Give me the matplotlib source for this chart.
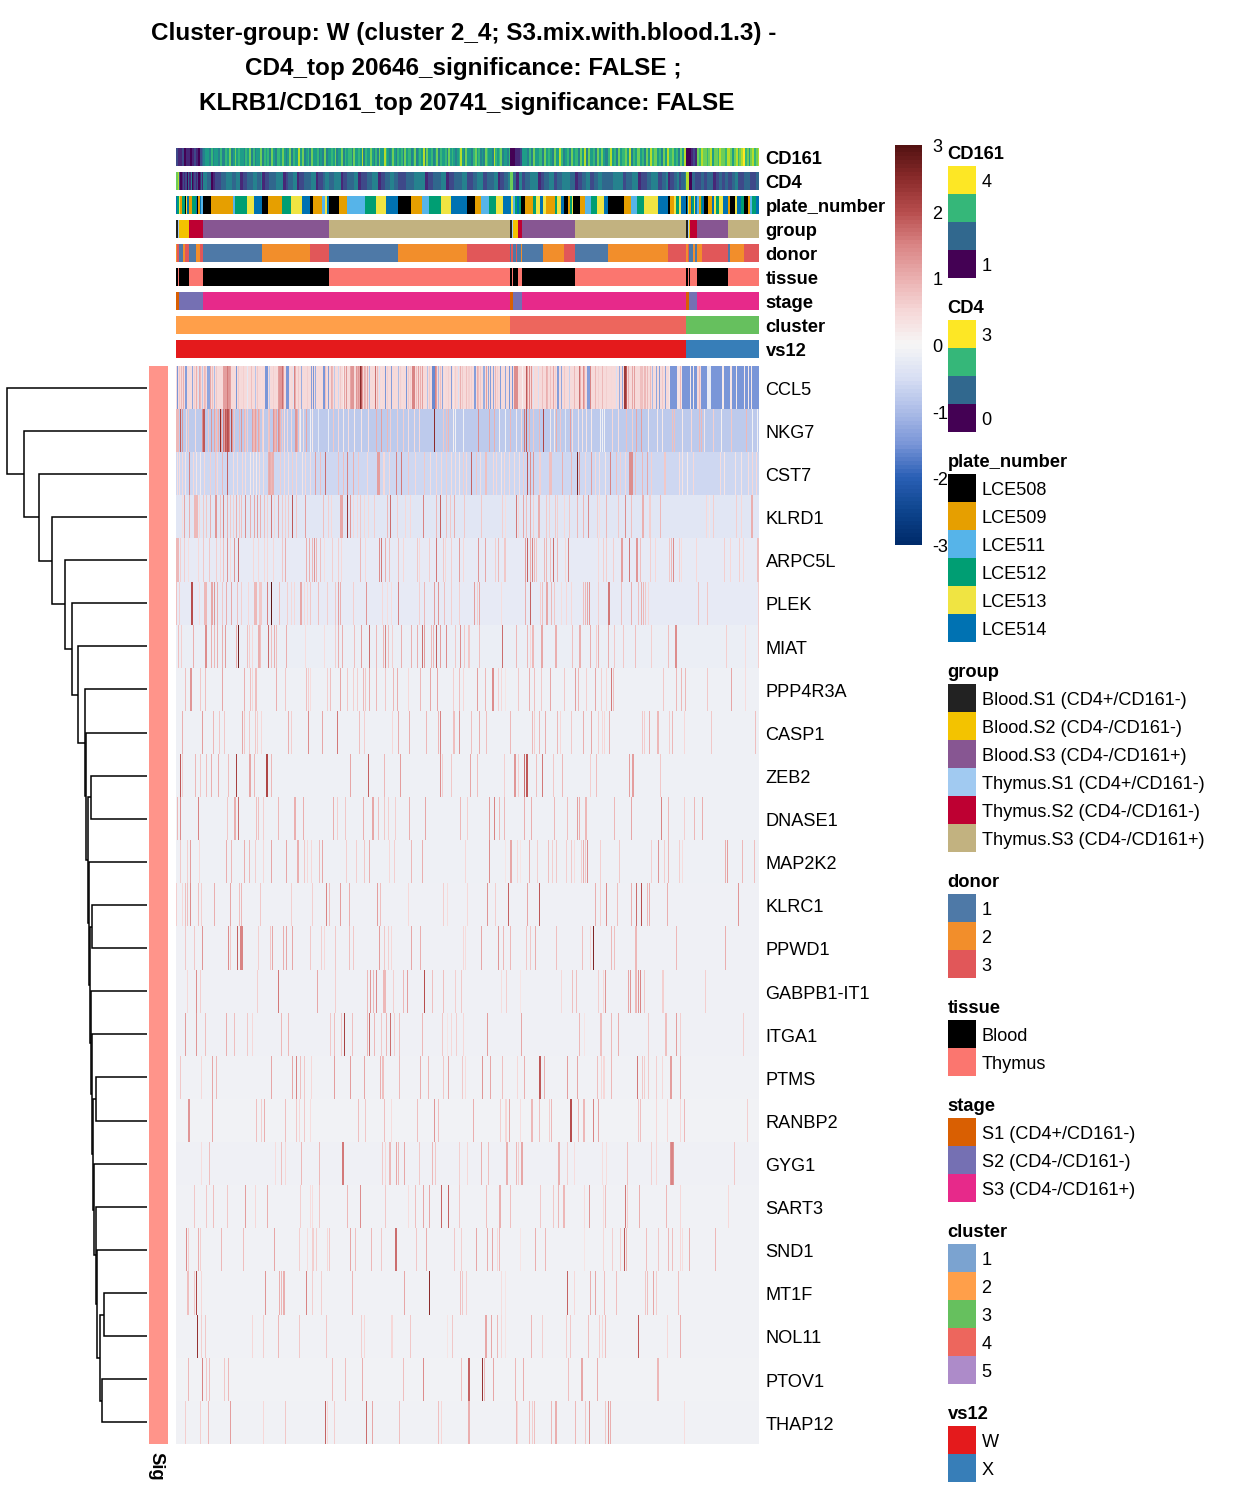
import numpy as np
import matplotlib
matplotlib.use("Agg")
import matplotlib.pyplot as plt
from matplotlib.colors import LinearSegmentedColormap, ListedColormap
from matplotlib.patches import Rectangle

plt.rcParams['font.family'] = ['Liberation Sans', 'DejaVu Sans']
W, H = 1248, 1497
N_COLS = 582

GENES = ["CCL5","NKG7","CST7","KLRD1","ARPC5L","PLEK","MIAT","PPP4R3A","CASP1","ZEB2","DNASE1","MAP2K2","KLRC1",
         "PPWD1","GABPB1-IT1","ITGA1","PTMS","RANBP2","GYG1","SART3","SND1","MT1F","NOL11","PTOV1","THAP12"]
BASELINE = [0.45,-0.8,-0.6,-0.35,-0.24,-0.24,-0.17,-0.12,-0.12,-0.12,-0.12,-0.12,-0.11,
            -0.11,-0.11,-0.11,-0.10,-0.08,-0.11,-0.09,-0.09,-0.09,-0.09,-0.08,-0.09]

# ---- stripes: column -> z-score ----
CCL5 = {1:-1.5,9:-1.4,10:-1.4,16:-1.3,22:-.5,26:-.8,31:-1.3,32:-1.3,33:-1.3,38:-1,60:-1.5,71:-.3,79:-.9,89:-1.5,90:-1.5,91:-1.5,
 93:-.8,110:-1.5,111:-1.5,112:-1.5,117:-.4,125:-1.2,135:-1.4,137:-1.5,139:-1.2,147:-1.5,148:-1.5,152:-1.4,158:-.8,162:-.6,167:.2,
 193:-1,203:-.5,209:-1.5,215:-1.4,222:-1,230:-1.5,251:-.9,256:-1.6,257:-1.6,258:-1.6,262:-1,266:-1.3,275:-1.4,282:-.5,
 3:.7,5:.9,7:1,12:.5,18:.6,20:1,23:1.1,24:.9,28:.9,29:.8,34:1.1,36:.8,40:.7,47:1.2,48:1.2,49:1.2,50:1.2,51:1.6,52:1.3,53:1.3,54:1.2,62:.7,65:.5,67:.6,
 75:.8,81:.7,85:.4,95:.5,97:.6,99:.5,102:1.2,103:1.3,104:1.3,105:1.3,106:1.7,107:1.2,114:.4,118:1.5,119:1,122:.7,126:.5,131:.6,136:.5,149:.8,
 155:1,156:.9,164:.7,168:1.1,170:1.3,174:1.1,175:1.3,176:1.3,177:1.3,180:1.3,181:1,182:1.3,183:1.1,184:2.5,185:1.9,186:1.2,188:1.0,189:.9,191:1.1,196:.5,
 199:1.7,201:.9,205:.4,211:.6,217:.5,224:.6,226:.4,232:.7,234:.6,236:1.5,237:1.5,238:1.5,240:.8,242:1.2,244:1,246:1.2,
 253:.7,259:1.5,260:1.2,264:.8,268:.4,270:.5,272:.6,277:.3,279:.6,284:1,286:.7,290:.8,292:.6,
 294:.6,297:-1.4,298:-1.4,300:1,301:.8,303:.7,306:-1.2,307:-1.2,309:1.2,311:-1.3,313:-1.4,316:-1.3,318:.9,320:.6,323:-1.4,328:-1.3,332:-1.5,335:-1.5,
 337:1.4,338:1.4,339:1.4,340:1.4,345:.1,349:1.9,350:1.2,352:1.4,354:1.3,356:-.4,361:-.5,365:.8,369:1,370:.9,373:.8,376:1.1,378:.6,380:-1.4,381:-1.4,384:-1.3,387:.7,
 392:-.7,397:.9,402:1.7,403:1,406:1.4,407:1,410:-1.4,411:-1.4,412:-1.4,413:1.5,418:.9,421:.6,425:.9,429:.6,434:.5,439:-.5,442:-1.2,445:-1.3,
 447:2.3,448:2.3,449:1.9,451:1,455:1.1,457:1.2,463:.8,464:.8,465:.8,467:.9,468:.9,470:.9,473:.9,475:-1,479:-1.3,482:-1.4,485:.7,488:-1.3,
 492:.2,500:.3,501:.3,502:.3,503:.9,504:.3,513:.2,516:.2,520:.5,521:.5,522:.9,523:.5,530:-.2,531:-.2,532:-.2,533:-.2,545:.2,546:.2,553:.3,554:.3,559:.2,567:.2,571:.2,574:.2}
CCL5_BLUE_FROM = 492   # cells right of this column sit on the low (blue) level
NKG7 = {0:.9,1:.9,2:.9,4:1.9,6:1.3,10:.5,12:.7,19:.4,26:1.4,27:1.9,28:1.9,32:.7,35:1.3,38:1.1,39:.8,41:.8,42:1,44:2.5,45:1,47:1.6,48:1.2,49:1.9,50:1.7,51:2,52:1.9,53:1.5,55:2,56:1.2,58:.7,
 63:.9,65:1.3,68:.9,69:.7,71:.6,76:1.2,77:.9,78:.9,79:1.2,80:.9,82:1.1,83:.9,86:.6,87:.4,92:.7,93:.8,97:1.3,98:1,99:.9,100:1.1,102:1.4,103:1.2,104:.9,106:.7,108:.4,111:.5,115:.5,119:1.3,120:1.3,121:1,123:.5,124:.1,127:.4,130:1.1,134:-.1,136:.2,142:-.3,
 152:-.2,157:.7,162:.5,167:.2,172:.4,178:.2,185:.3,192:.4,200:1,205:1.2,211:.9,214:.6,221:.6,227:.6,232:.4,238:.4,243:.5,258:2.5,267:.7,270:.8,272:.9,277:.1,279:-.1,287:-.1,
 301:1.4,312:1.1,317:1,322:.1,328:-.1,333:.9,339:.2,344:.5,347:1.6,349:1.9,352:1,356:.7,362:.9,366:2.1,373:.2,377:.2,379:1,383:.7,388:-.3,393:1.2,395:.4,401:.3,405:.3,409:.3,414:.2,
 423:-.1,425:-.1,427:-.1,435:.5,441:.4,449:.8,455:.6,459:1.1,464:1.2,471:.2,480:.2,485:.2,495:.8,497:.8,505:.2,514:.5,522:.9,524:.9,527:.3,536:.6,544:.1,554:.7,569:.9,575:-.1,580:-.1}
CST7 = {1:.4,3:.4,6:.5,9:.3,13:1.5,17:.5,20:.3,24:.2,28:.5,34:.6,39:.7,41:.5,46:.9,51:1.8,57:.4,61:.4,66:.5,69:.4,74:.2,77:.3,80:.2,83:.4,87:.4,
 92:1,93:1.1,94:1,95:.9,96:1,97:1,104:.6,108:.5,112:.4,116:.6,120:.5,126:.3,129:.5,134:.4,139:1.2,144:.8,149:1.7,162:.8,167:.8,171:1.5,177:1,182:.7,191:.5,
 201:1.2,202:1.2,203:1.2,207:.5,208:.5,213:.5,220:1.5,225:1.6,232:.7,239:.5,248:.7,254:.4,260:.5,265:.5,270:.6,275:.4,279:.4,283:.3,287:.6,290:.5,
 294:1.8,299:.7,303:.4,308:.8,309:.8,316:.5,319:.5,324:.3,327:.5,332:.5,337:.4,342:.4,346:.6,350:1.9,353:1.4,356:1.3,362:.6,363:.6,372:.8,373:.8,374:.8,385:1,394:.9,400:2.6,402:1.2,
 408:.5,414:1.2,418:.5,422:.4,428:.3,433:1.5,439:.8,443:.6,448:.5,452:1.4,453:1.4,454:1.4,455:1.4,458:.8,465:.9,470:1.1,474:.6,487:.7,488:.7,502:.4,505:.3,510:.2,516:.5,
 543:.4,547:.3,558:.3,564:.3,571:.4,575:.5,579:.5}
KLRD1 = {6:.4,8:1.1,13:1,18:.9,19:.9,20:.9,21:.9,23:.5,27:.7,30:.7,34:1,39:1.3,40:1.3,44:.8,47:1.5,51:1,54:.7,57:.6,60:1,63:.7,65:.8,69:1.4,74:1,78:1.1,81:1.2,84:1,88:.8,91:.6,
 95:1.6,98:.5,102:1.2,106:.7,109:.6,112:.7,116:1.9,120:.7,129:1.2,147:.8,152:.6,155:.5,164:1.1,165:1.1,166:1.1,171:2.3,174:1.3,177:.5,181:.5,184:.7,188:.5,192:.5,198:.6,211:.9,214:1.7,221:.6,
 229:.5,234:.5,247:1.5,260:.9,264:1.8,270:.8,274:.7,278:1,288:.7,
 304:.7,325:.6,328:.4,339:1.6,341:.5,346:1.1,349:.8,353:1.1,356:.6,361:1,362:1,369:.7,372:.6,378:.7,380:.6,387:.5,392:.7,400:.9,406:.9,411:1.4,420:.6,422:.4,429:.9,441:.7,448:1.4,454:.8,
 465:1,466:1,472:.6,473:.6,483:.9,529:.5,532:.3,536:.6,559:.6,564:.5,574:1,575:1}
ARPC5L = {0:.9,1:.9,2:.9,4:.6,8:.6,12:.4,22:.5,27:.7,33:.7,40:.6,44:.5,47:.8,51:1.3,54:.5,58:1.3,62:1.7,77:.5,82:.5,88:.5,91:.5,97:.5,106:.7,109:1,130:1,133:1,136:.9,138:1.3,140:.9,144:.8,148:.4,
 156:.6,162:.6,165:.5,184:.9,189:.5,203:1.4,205:1.6,209:1,213:.8,222:.8,227:.5,241:.7,243:.5,253:.6,260:1.6,267:.7,269:.5,275:.6,283:1.2,287:.5,
 301:1.3,308:1.1,318:.6,321:.9,327:.7,328:.7,348:1.2,350:1.8,353:1,355:1.5,357:.9,359:.7,367:.9,369:.9,373:.8,376:1.7,380:.9,388:.5,391:1.5,421:.5,426:.6,429:.6,436:.6,444:1.2,445:1.2,452:1.6,
 459:1.3,460:1.3,463:.8,473:.6,478:.5,492:.7,494:.9,496:1.4,502:.6,504:.4,519:.5,547:.6,553:.5,562:.6,566:.5,580:.8,581:.8}
PLEK = {0:.8,3:.6,15:2,16:2,23:.4,28:.9,29:.9,30:.9,35:1.1,36:1.1,38:1.3,41:1,46:.7,50:1,55:1.1,61:.8,65:.6,72:.5,78:.9,79:.9,80:.9,83:.7,84:.7,85:.7,91:1.5,95:2.9,103:.8,111:.6,115:.5,118:.5,124:1.1,125:1.1,
 128:.5,131:.5,134:.7,142:.8,151:.6,159:.7,162:1.2,164:1,177:.6,190:1.3,206:.5,211:.4,215:.4,222:1.5,243:.6,248:.9,258:1.2,262:1.3,268:.8,275:.6,283:.6,
 297:1.2,300:.6,302:1.1,324:.4,348:1,353:1.8,363:.6,365:.8,369:1.1,370:1.1,374:.9,377:.7,384:.4,389:.5,394:.5,406:.8,408:.9,410:1.1,412:1.3,421:.6,431:1.6,432:1.6,444:.8,454:1,461:.8,464:1,466:.9,468:.7,471:.5,521:.8,530:.7,581:.6}
MIAT = {2:.8,5:.6,17:1,29:1.4,30:1.4,35:1,38:.9,41:1,46:1,49:1.2,60:1,62:2.7,71:.8,73:.6,76:.5,82:1,83:1,84:.8,92:1.7,95:.8,98:1,100:.8,110:1,129:.4,148:.4,159:.6,162:1,166:1,178:.8,185:1.2,193:1.7,
 200:.9,207:.9,209:1.5,212:.8,216:.6,225:1,235:1,241:1,246:1.7,248:1.2,255:.9,257:.9,260:1.8,264:1.2,270:1.4,279:.7,284:1.4,288:.7,292:.7,
 302:.8,325:1.7,339:.9,350:.9,353:.5,355:.9,356:.9,364:1.1,365:1.1,378:1,379:1,395:.8,402:1,403:1,413:1,419:.6,421:1,431:1,437:.7,446:.7,458:.8,474:.6,491:.8,498:1.4,499:1.4,549:.6,568:.4,581:.6}
PPP4R3A = {9:.8,14:1.3,15:1.3,24:.7,29:.8,46:1.1,68:1,74:.8,76:.5,79:.8,80:.8,100:1,109:.7,130:.8,132:.6,134:.4,151:.6,154:.8,164:1.1,171:.7,177:.6,181:.6,187:.9,189:.7,193:1,200:.9,209:.7,217:.9,221:1,232:.5,244:.9,254:1.1,261:1.1,277:.6,283:.8,287:.5,
 300:1.2,308:.9,315:1.4,316:1.4,321:.6,324:.5,328:.3,341:.7,352:1,357:.8,364:.7,373:1.1,387:.7,398:1.2,401:.9,409:.6,418:1.1,424:.6,429:.5,434:1.6,436:.8,486:.7,499:.9,504:.9,508:.9,530:.7,554:1.1,568:.4}
CASP1 = {6:1,26:1.2,37:.9,43:.7,48:.7,66:1.1,68:.7,73:.7,79:.7,81:.6,85:.5,112:1,115:.6,132:1.4,146:1.1,161:1.6,183:.8,188:.6,216:.5,222:1,233:1,250:.9,262:.9,264:1.5,277:.8,278:.8,283:1.3,
 294:.8,302:1,309:.8,333:.9,355:.9,357:.6,362:.9,368:1,380:.9,383:.5,394:.7,406:1,414:1.1,421:.6,425:.5,427:.5,432:1,465:.7,467:.6,472:1,480:.9,481:.9,492:.6,495:.9,507:.5,534:.7,578:.8}
ZEB2 = {4:1.9,6:.6,19:.9,24:.7,30:.8,35:1,42:1,52:.8,60:2.2,73:1.1,74:1.1,78:.9,90:2.1,91:2.1,95:.9,174:1.1,192:1.8,208:.9,224:1.2,264:1.4,266:.6,275:.7,293:1.1,
 300:.8,327:.6,337:1.3,338:1.3,341:.6,347:1.7,349:1.9,350:1.9,359:.8,365:1.6,376:.7,385:.9,413:.6,419:.8,452:1.2,455:1.2,456:1.2,483:.7}
DNASE1 = {1:.9,4:1.4,22:1.5,51:.7,58:1,59:1,62:1.7,80:.8,82:.8,87:.6,102:.9,118:1,119:1,127:1,157:1,161:.6,169:.7,187:1,196:1.1,197:1.1,202:.8,208:.7,212:.6,219:.6,233:1,249:1.1,284:.9,291:.6,
 312:1.2,317:1.5,322:.9,327:.9,347:1,354:1,377:.9,390:.8,400:1.2,402:1,408:.9,409:.9,437:.9,454:1.1,484:1.5,491:.9,507:.6,517:.9,525:1}
MAP2K2 = {4:.7,11:.6,14:1.2,23:.5,50:1,55:.9,68:1,73:.9,79:.6,87:.5,95:1.1,110:1.1,121:1,122:1,128:.7,131:.5,135:.5,143:.8,146:1.1,170:.6,180:.6,188:.7,193:1,213:.5,218:.6,235:.9,246:1,289:.5,
 312:1.4,328:.3,333:1.1,334:1.1,340:.5,343:.3,352:1,360:.6,371:.8,375:.6,379:.7,389:.6,394:.7,397:.4,404:.6,406:1,408:.7,410:1.4,423:.6,442:.7,474:.6,481:1.3,487:.6,491:.9,502:.6,505:.4,548:1,550:1.2,565:.9,577:.8}
KLRC1 = {0:.6,6:.5,9:.8,11:.8,14:1.4,22:.8,25:.6,38:1,54:1.1,63:.8,65:.9,84:.7,115:.6,136:.6,150:1.5,153:.8,164:1.2,173:1,201:1.2,204:.8,232:.5,267:.6,271:.4,291:.5,
 310:1.3,318:.6,331:1.8,350:1.1,362:1.9,418:1,423:.6,429:1.4,440:.8,454:1,459:1.7,464:2,470:.9,472:1,490:1,561:1.3}
PPWD1 = {9:.7,18:.7,26:1.3,52:1.4,54:.7,61:1.8,64:1.5,65:1.5,66:1.5,82:.6,94:.7,96:1.1,107:1,110:1.1,116:1.1,134:.7,145:.6,148:.5,159:.7,173:.8,177:.7,203:1.2,208:.7,212:.6,215:.5,235:1.1,244:1,287:.5,289:.4,
 304:1.1,321:1.3,326:.9,333:.9,349:.7,353:.7,358:1,379:.8,405:.8,413:.5,416:2.6,434:.9,437:.8,458:.9,459:.9,499:.9,548:1}
GABPB1 = {11:.5,20:1.4,24:.6,81:.6,102:1.6,141:1.1,159:.6,191:.9,194:1.3,197:.9,200:1.4,207:.9,208:.9,209:.9,217:.6,227:.9,231:1.2,248:2,256:.8,267:.8,279:.6,285:.7,
 324:.4,329:.6,343:.3,384:.5,395:.8,399:.8,421:.6,426:.5,428:1.3,451:1.1,453:1.3,458:.9,459:.9,461:1.3,463:1.5,467:.7,485:.6,486:.6,528:.6}
ITGA1 = {9:1.2,20:1.3,29:.8,50:1,58:.8,71:.7,76:.5,105:.9,112:.9,154:.7,158:.8,165:.7,168:2.2,176:.8,191:.9,193:1.7,198:.9,205:.7,210:.9,214:1.7,218:.6,223:.8,246:.9,266:.7,271:.3,275:.5,280:.6,287:.5,
 310:1.2,344:1.1,402:.9,407:.3,423:.8,424:.8,434:.9,441:1,471:.7,488:.8,489:.8,499:1.2,503:.6,566:.6}
PTMS = {4:.7,25:.5,36:1.1,40:.9,95:1.1,116:1.1,120:1.5,124:.8,128:.7,135:.5,158:1.2,174:1.2,188:1.1,204:1,206:.8,207:.8,223:.9,244:1,252:.9,267:.7,272:1.1,286:.7,289:.4,
 305:1.3,313:1.1,325:.8,340:.5,347:1,362:1.9,363:1.9,367:1,390:1.2,400:1.1,420:.8,424:.5,426:.5,427:.5,434:.9,460:1.6,465:.7,467:.6,471:.7,479:.6,485:.5,493:1.2,494:1.2,503:1}
RANBP2 = {12:1.3,13:1.3,36:1.1,80:.8,85:.6,88:1,109:.8,120:.7,123:.5,128:.7,134:.4,182:.8,189:.7,208:.8,215:.4,241:.8,258:1.3,262:.8,
 296:1,323:.6,328:.5,329:.5,332:1.1,343:.4,354:.9,355:.9,362:.8,372:.6,374:.9,393:2,394:2,401:.9,406:.9,407:.9,416:1.5,421:1.1,461:.7,463:.8,479:.5,490:.5,503:.5,507:.9,570:.6}
GYG1 = {25:.4,33:.8,99:.4,105:.8,109:.5,125:.9,143:.9,166:1.6,167:1.6,206:.7,209:.5,213:.9,214:.9,220:1.1,222:.9,228:1.1,243:.7,256:.9,259:.7,283:.6,291:.5,
 304:1,311:.8,329:1,330:1,339:.9,341:.6,344:1.1,345:1.1,381:1,382:1,390:.6,397:.4,425:.4,429:.4,450:.8,474:.6,479:.5,493:1.3,494:1.5,495:1.5,496:1.3,557:.7}
SART3 = {18:.7,30:.7,37:.8,51:.7,69:1.2,79:.5,91:1,124:.6,134:.4,136:.4,143:.7,171:.9,184:1.4,209:.7,232:.4,239:.8,247:1.1,253:1.1,265:1.8,272:1.8,283:.7,
 309:.8,322:1,323:1,333:.8,363:.7,376:.7,381:.9,386:.9,387:.9,407:.4,412:1.3,426:.4,428:.8,448:1.6,450:.6,462:1,489:.9,503:.5,551:.5}
SND1 = {10:1.4,12:.6,22:1,24:.6,45:.9,67:.8,98:1.1,123:.6,131:.4,136:.6,137:.6,140:.6,151:.5,153:.7,174:1.1,179:.8,195:.9,205:.7,219:1.7,220:1.7,240:.7,250:1,278:.7,285:.6,
 299:1.1,310:1,315:1.1,320:.5,322:.9,343:.3,358:1,368:.9,407:.3,426:.5,435:.6,443:.6,447:1.9,449:.9,469:.8,481:.7,491:.9,495:.8,503:.5,505:.4,512:1,538:.9}
MT1F = {11:.8,12:.8,18:.7,20:2.1,25:.5,89:1.3,103:1,105:.9,107:1,108:1,130:1.5,136:.6,145:.6,176:.9,228:1.1,253:2.5,284:.8,286:.7,290:.6,
 324:.4,328:.3,390:1.8,397:.5,413:1,418:1.1,427:.8,439:.8,468:.7,470:.8,476:1.1,479:.6,501:.8}
NOL11 = {21:2.4,25:.6,29:.7,76:.5,87:.6,102:.9,123:.7,150:.7,185:.6,188:.5,215:.5,216:.5,234:.7,271:.3,276:.7,
 308:1.1,309:1.1,314:1.1,320:.9,324:.5,328:.3,354:.9,365:.6,389:.6,393:.7,411:.8,422:.6,425:.5,428:.8,461:1.9,490:.5,503:1}
PTOV1 = {12:.9,26:1.5,30:.7,33:.8,48:.7,52:.9,156:.8,169:.8,186:1,227:.8,247:1.4,285:.8,292:1.8,
 305:2.4,307:.9,316:1.1,338:.9,346:1,391:.8,404:1.1,405:1.1,420:1,480:.9,481:.9}
THAP12 = {9:.6,24:.6,32:.9,54:1.2,87:.5,109:.7,149:1.8,151:.5,158:.6,190:1.7,196:1.1,223:.8,262:.8,265:.5,292:1,
 339:.9,340:.5,352:.8,355:.6,357:.8,374:.9,378:1,379:1,398:.9,408:.7,412:1.3,428:.7,431:1.3,433:1,507:.4}
ROWS = [CCL5,NKG7,CST7,KLRD1,ARPC5L,PLEK,MIAT,PPP4R3A,CASP1,ZEB2,DNASE1,MAP2K2,KLRC1,PPWD1,GABPB1,ITGA1,PTMS,RANBP2,
        GYG1,SART3,SND1,MT1F,NOL11,PTOV1,THAP12]

# ---- viridis-level annotations: (first column, last column, level digits 0-9) ----
CD161_LEVELS = [
 (0,27,"21120110121023"),
 (27,153,"455464554644657457565546574645574656475466575457465585745647556454745"),
 (153,333,"5657455746566475565846557546475586545754656475664574565847556457465564756545685475546756454765548656745546"),
 (333,345,"00112"),
 (345,398,"5546475564756547586456475"),
 (398,509,"6475847564757546856475675846575647586756475867564758"),
 (509,520,"00121"),
 (520,582,"7687767857768776887578678967578678"),
]
CD4_LEVELS = [
 (0,27,"782012120314012120131"),
 (27,86,"4433012223334443344112233344334"),
 (86,153,"12233344412334412233344122344"),
 (153,222,"3344412233344122233444122334433"),
 (222,291,"22233344441223334412233344"),
 (291,333,"22334442233344122334"),
 (333,345,"7314"),
 (345,398,"23344412334423344433"),
 (398,431,"1223344223344333"),
 (431,491,"3344444233344412223344422334"),
 (491,509,"1223342334"),
 (509,520,"8032"),
 (520,582,"23233123232342233223"),
]

# ---- categorical annotations: (first column, last column, category) ----
PLATE_SEG = [(0,1,5),(1,3,3),(3,4,4),(4,6,1),(6,9,3),(9,10,0),(10,11,4),(11,13,5),(13,16,1),(16,20,3),(20,21,5),(21,22,0),(22,24,1),(24,25,5),(25,27,2),
 (27,35,0),(35,57,1),(57,59,2),(59,71,3),(71,78,4),(78,86,5),(86,92,0),(92,106,1),(106,115,3),(115,126,4),(126,134,5),(134,137,0),(137,146,1),(146,149,2),(149,151,4),(151,153,5),
 (153,163,0),(163,171,1),(171,189,2),(189,200,3),(200,210,4),(210,222,5),(222,235,0),(235,246,1),(246,253,2),(253,265,3),(265,275,4),(275,291,5),(291,298,0),(298,304,1),(304,312,2),(312,319,3),(319,326,4),(326,334,5),
 (334,336,4),(336,338,2),(338,340,3),(340,342,5),(342,344,3),(344,348,0),(348,356,1),(356,359,3),(359,363,4),(363,366,5),(366,369,4),(369,378,1),(378,380,3),(380,384,4),(384,387,5),(387,391,0),(391,393,1),(393,395,3),(395,396,4),(396,403,0),(403,408,1),(408,414,2),(414,420,3),(420,427,4),(427,431,5),
 (431,447,0),(447,454,1),(454,460,2),(460,467,3),(467,481,4),(481,491,5),(491,493,0),(493,497,1),(497,499,4),(499,502,3),(502,504,4),(504,509,5),
 (509,510,0),(510,511,5),(511,512,4),(512,514,1),(514,515,5),(515,517,3),(517,518,4),(518,520,5),(520,522,2),(522,524,1),(524,525,3),(525,527,5),(527,531,0),(531,535,1),(535,537,5),(537,539,4),(539,542,3),(542,546,4),(546,551,5),(551,553,1),(553,558,0),(558,560,4),(560,564,5),(564,567,3),(567,571,0),(571,573,1),(573,575,2),(575,579,3),(579,582,5)]
GROUP_SEG = [(0,2,0),(2,3,3),(3,13,1),(13,27,4),(27,153,2),(153,333,5),(333,335,0),(335,336,3),(336,341,1),(341,345,4),(345,398,2),(398,509,5),(509,511,0),(511,512,3),(512,513,1),(513,520,4),(520,551,2),(551,582,5)]
DONOR_SEG = [(0,1,1),(1,3,2),(3,7,0),(7,9,1),(9,13,2),(13,20,0),(20,24,1),(24,27,2),(27,86,0),(86,134,1),(134,153,2),(153,222,0),(222,291,1),(291,333,2),(333,334,0),(334,336,2),(336,339,0),(339,340,2),(340,344,0),(344,345,1),(345,366,0),(366,387,1),(387,398,2),(398,431,0),(431,491,1),(491,509,2),(509,511,1),(511,512,2),(512,516,0),(516,518,1),(518,520,0),(520,525,1),(525,551,2),(551,553,0),(553,567,1),(567,582,2)]
TISSUE_SEG = [(0,2,0),(2,3,1),(3,13,0),(13,27,1),(27,153,0),(153,333,1),(333,335,0),(335,336,1),(336,341,0),(341,345,1),(345,398,0),(398,509,1),(509,511,0),(511,512,1),(512,513,0),(513,520,1),(520,551,0),(551,582,1)]
STAGE_SEG = [(0,3,0),(3,27,1),(27,333,2),(333,336,0),(336,345,1),(345,509,2),(509,512,0),(512,520,1),(520,582,2)]
CLUSTER_SEG = [(0,333,1),(333,509,3),(509,582,2)]
VS12_SEG = [(0,509,0),(509,582,1)]

# ---- legends ----
VIR_4 = ["#FDE725","#35B779","#31688E","#440154"]
PLATE_NAMES = ["LCE508","LCE509","LCE511","LCE512","LCE513","LCE514"]
PLATE_COL = ["#000000","#E69F00","#56B4E9","#009E73","#F0E442","#0072B2"]
GROUP_NAMES = ["Blood.S1 (CD4+/CD161-)","Blood.S2 (CD4-/CD161-)","Blood.S3 (CD4-/CD161+)","Thymus.S1 (CD4+/CD161-)","Thymus.S2 (CD4-/CD161-)","Thymus.S3 (CD4-/CD161+)"]
GROUP_COL = ["#222222","#F3C300","#875692","#A1CAF1","#BE0032","#C2B280"]
DONOR_NAMES = ["1","2","3"]
DONOR_COL = ["#4E79A7","#F28E2B","#E15759"]
TISSUE_NAMES = ["Blood","Thymus"]
TISSUE_COL = ["#000000","#FB766F"]
STAGE_NAMES = ["S1 (CD4+/CD161-)","S2 (CD4-/CD161-)","S3 (CD4-/CD161+)"]
STAGE_COL = ["#D95F02","#7570B3","#E7298A"]
CLUSTER_NAMES = ["1","2","3","4","5"]
CLUSTER_COL = ["#7BA3D0","#FF9F4A","#66C05E","#ED665D","#AD8BC9"]
VS12_NAMES = ["W","X"]
VS12_COL = ["#E41A1C","#377EB8"]

# dendrogram merges: (node, child a, child b, height); ints are rows of GENES
MERGES = [("p23",23,24,45),("p21",21,22,42.7),("n21","p21","p23",47.5),("n20",20,"n21",49.7),("n19",19,"n20",51.3),("n18",18,"n19",52.7),
 ("p16",16,17,51),("n16","p16","n18",54),("n15",15,"n16",54.8),("n14",14,"n15",56),("p12",12,13,54.7),("n12","p12","n14",57),("n11",11,"n12",58),
 ("p9",9,10,56.3),("n9","p9","n11",59.3),("n8",8,"n9",60.7),("n7",7,"n8",62),("n6",6,"n7",69.5),("n5",5,"n6",75.5),("n4",4,"n5",82.5),
 ("n3",3,"n4",95.5),("n2",2,"n3",108.5),("n1",1,"n2",123),("n0",0,"n1",140)]

# ---- colour scale ----
CBAR_NODES = [(-3,"#002B6B"),(-2.5,"#0F468F"),(-2,"#2B60B6"),(-1.5,"#7A96D8"),(-1,"#ADBDE8"),(-.5,"#D8DFF4"),(0,"#F6F6F6"),
              (.5,"#F6D8D8"),(1,"#EBB0B0"),(1.5,"#DA8585"),(2,"#B84E4E"),(2.5,"#8C2C2C"),(3,"#541212")]
cmap = LinearSegmentedColormap.from_list("z", [((v+3)/6, c) for v, c in CBAR_NODES], N=512)

fig = plt.figure(figsize=(W/100, H/100), dpi=100)

def px_axes(x0, y0, x1, y1, z=1):
    ax = fig.add_axes([x0/W, 1-y1/H, (x1-x0)/W, (y1-y0)/H], zorder=z)
    ax.set_axis_off()
    return ax

# heatmap
M = np.empty((len(GENES), N_COLS))
for i, (base, row) in enumerate(zip(BASELINE, ROWS)):
    M[i, :] = base
    if i == 0:
        M[i, CCL5_BLUE_FROM:] = -1.5
    for c, v in row.items():
        M[i, c] = v
HX0, HX1, HY0, HY1 = 175.6, 757.6, 366, 1444
ax = px_axes(HX0, HY0, HX1, HY1)
ax.imshow(M, aspect="auto", cmap=cmap, vmin=-3, vmax=3, interpolation="nearest")

# annotation bars
def seg_row(segs, colors, y):
    ax = px_axes(HX0, y, HX1, y+18)
    a = np.zeros((1, N_COLS), dtype=int)
    for s, e, k in segs:
        a[0, s:e] = k
    ax.imshow(a, aspect="auto", cmap=ListedColormap(colors), vmin=0, vmax=len(colors)-1, interpolation="nearest")

def lev_row(levels, y):
    ax = px_axes(HX0, y, HX1, y+18)
    a = np.zeros((1, N_COLS))
    for s, e, digits in levels:
        d = np.array([int(ch) for ch in digits]) / 9.0
        idx = (np.arange(e-s) * len(d) / (e-s)).astype(int)
        a[0, s:e] = d[idx]
    ax.imshow(a, aspect="auto", cmap="viridis", vmin=0, vmax=1, interpolation="nearest")

lev_row(CD161_LEVELS, 148)
lev_row(CD4_LEVELS, 172)
seg_row(PLATE_SEG, PLATE_COL, 196)
seg_row(GROUP_SEG, GROUP_COL, 220)
seg_row(DONOR_SEG, DONOR_COL, 244)
seg_row(TISSUE_SEG, TISSUE_COL, 268)
seg_row(STAGE_SEG, STAGE_COL, 292)
seg_row(CLUSTER_SEG, CLUSTER_COL, 316)
seg_row(VS12_SEG, VS12_COL, 340)

# dendrogram
dax = px_axes(7, HY0, 147, HY1)
dax.set_xlim(140, 0)
dax.set_ylim(len(GENES)-0.5, -0.5)
pos = {}
for node, a, b, h in MERGES:
    ya, ha = (a, 0) if isinstance(a, int) else pos[a]
    yb, hb = (b, 0) if isinstance(b, int) else pos[b]
    dax.plot([ha, h, h, hb], [ya, ya, yb, yb], color="black", lw=1.1, solid_joinstyle="miter", solid_capstyle="butt", clip_on=False)
    pos[node] = ((ya+yb)/2, h)

# overlay in pixel coordinates for legends and text
ov = fig.add_axes([0, 0, 1, 1], zorder=5)
ov.set_xlim(0, W); ov.set_ylim(H, 0); ov.set_axis_off(); ov.patch.set_alpha(0)

FS = 13.05
FSB = 13.2
def txt(x, y, s, bold=False, size=None, ha="left", z=3, rot=0, va="baseline"):
    size = size or (FSB if bold else FS)
    ov.text(x, y, s, fontsize=size, fontweight="bold" if bold else "normal", ha=ha, va=va, zorder=z, rotation=rot, color="black")

# Sig bar
ov.add_patch(Rectangle((149, HY0), 19, HY1-HY0, color="#FF948A", lw=0, zorder=1))
txt(156.3, 1452, "Sig", bold=True, ha="center", rot=270, va="top")

# row labels
rh = (HY1-HY0)/len(GENES)
for i, g in enumerate(GENES):
    txt(765.5, HY0+rh*(i+.5)+7.3, g)
for y, s in zip([157,181,205,229,253,277,301,325,349],
                ["CD161","CD4","plate_number","group","donor","tissue","stage","cluster","vs12"]):
    txt(765.5, y+7, s, bold=True)

# titles
TITLES = [(464,40,"Cluster-group: W (cluster 2_4; S3.mix.with.blood.1.3) -"),
          (463,75,"CD4_top 20646_significance: FALSE ;"),
          (467,110,"KLRB1/CD161_top 20741_significance: FALSE")]
for x, y, s in TITLES:
    txt(x, y, s, bold=True, size=17.46, ha="center")

# colour bar
cax = px_axes(895, 145, 922, 545)
cax.imshow(np.linspace(3, -3, 100).reshape(-1, 1), aspect="auto", cmap=cmap, vmin=-3, vmax=3, interpolation="nearest")
for v in [3,2,1,0,-1,-2,-3]:
    txt(932.5, 345-v*66.7+7, str(v), z=0)

# discrete legends
def legend(title, ty, names, colors):
    txt(947.6, ty+7, title, bold=True)
    y = ty+14
    for n, c in zip(names, colors):
        ov.add_patch(Rectangle((948, y), 28, 28, color=c, lw=0, zorder=1))
        if n:
            txt(981.6, y+14+7.3, n)
        y += 28

legend("CD161", 152, ["4","","","1"], VIR_4)
legend("CD4", 306, ["3","","","0"], VIR_4)
legend("plate_number", 460, PLATE_NAMES, PLATE_COL)
legend("group", 670, GROUP_NAMES, GROUP_COL)
legend("donor", 880, DONOR_NAMES, DONOR_COL)
legend("tissue", 1006, TISSUE_NAMES, TISSUE_COL)
legend("stage", 1104, STAGE_NAMES, STAGE_COL)
legend("cluster", 1230, CLUSTER_NAMES, CLUSTER_COL)
legend("vs12", 1412, VS12_NAMES, VS12_COL)

fig.savefig("out.png", dpi=100, facecolor="white")
